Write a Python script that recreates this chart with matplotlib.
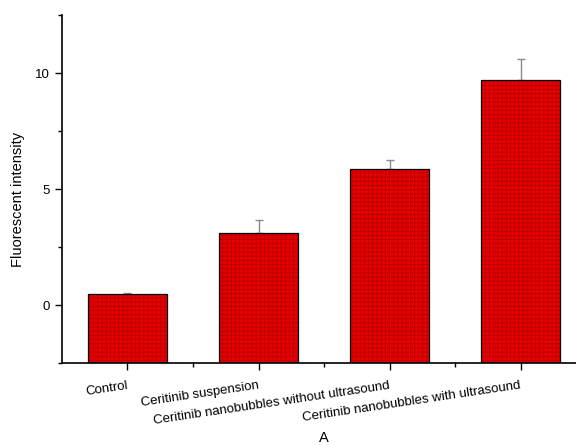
import numpy as np
import matplotlib.pyplot as plt

plt.rcParams["font.family"] = ["Liberation Sans", "DejaVu Sans"]
plt.rcParams["hatch.linewidth"] = 0.6

groups = [
    "Control",
    "Ceritinib suspension",
    "Ceritinib nanobubbles without ultrasound",
    "Ceritinib nanobubbles with ultrasound",
]
intensity = [0.47, 3.10, 5.85, 9.72]
err_up = [0.05, 0.58, 0.42, 0.90]

y_floor = -2.5

fig = plt.figure(figsize=(5.76, 4.45), dpi=100)
ax = fig.add_axes([0.1076, 0.184, 0.91, 0.782])

x = np.arange(len(groups))
heights = [v - y_floor for v in intensity]
ax.errorbar(x, intensity, yerr=[np.zeros(len(x)), err_up], fmt="none",
            ecolor="#8a8a8a", elinewidth=1.0, capsize=3, capthick=1.0, zorder=1)
# plaid fill: hatch takes the edge colour, so draw the outline separately
ax.bar(x, heights, bottom=y_floor, width=0.6, color="#e80000",
       edgecolor="#b80000", linewidth=0, hatch="++++", zorder=2)
ax.bar(x, heights, bottom=y_floor, width=0.6, fill=False,
       edgecolor="black", linewidth=0.9, zorder=3)

ax.set_xlim(-0.5, 3.5)
ax.set_ylim(-2.5, 12.5)
ax.set_yticks([0, 5, 10])
ax.set_yticks([-2.5, 2.5, 7.5, 12.5], minor=True)
ax.set_xticks(x)
ax.set_xticks([0.5, 1.5, 2.5], minor=True)
ax.set_xticklabels(groups, rotation=8.5, ha="right", rotation_mode="anchor",
                   va="center", fontsize=9.5)
ax.tick_params(axis="x", which="major", pad=11)
ax.tick_params(axis="both", which="major", direction="out", length=5,
               width=1.0)
ax.tick_params(axis="y", labelsize=9.5)
ax.tick_params(axis="both", which="minor", direction="out", length=3, width=1.0)

ax.spines["top"].set_visible(False)
ax.spines["right"].set_visible(False)
ax.spines["left"].set_linewidth(1.2)
ax.spines["bottom"].set_linewidth(1.2)

ax.set_ylabel("Fluorescent intensity", fontsize=10.5)
ax.yaxis.set_label_coords(-0.07, 0.47)
ax.set_xlabel("A", fontsize=10.5)
ax.xaxis.set_label_coords(0.5, -0.195)

fig.savefig("out.png", dpi=100)
